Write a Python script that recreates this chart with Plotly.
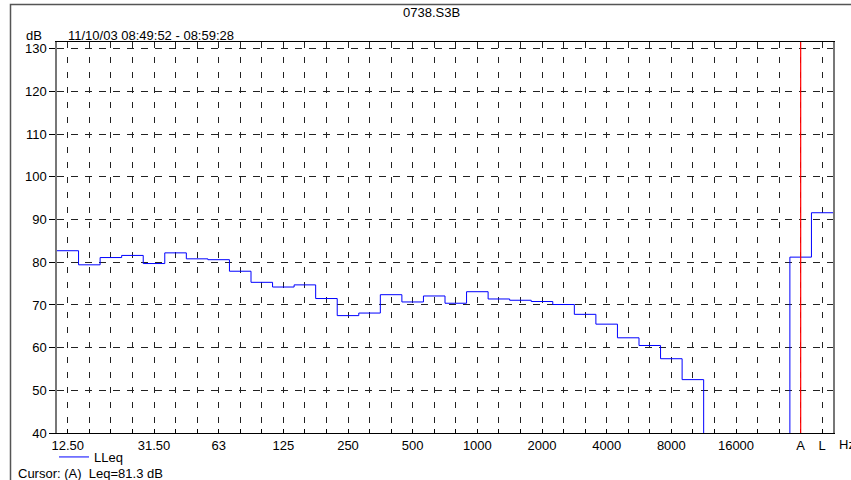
import numpy as np
import plotly.graph_objects as go

# ---- data ----
band_labels = ["12.50", "16", "20", "25", "31.50", "40", "50", "63", "80", "100",
               "125", "160", "200", "250", "315", "400", "500", "630", "800", "1000",
               "1250", "1600", "2000", "2500", "3150", "4000", "5000", "6300", "8000",
               "10000", "12500", "16000", "20000", "", "A", "L"]
lleq_values = [82.7, 79.4, 81.1, 81.6, 79.7, 82.2, 80.8, 80.6, 77.9, 75.3,
               74.2, 74.7, 71.5, 67.5, 68.1, 72.4, 70.7, 72.1, 70.4, 73.1,
               71.4, 71.1, 70.8, 70.1, 67.8, 65.5, 62.3, 60.5, 57.4, 52.5,
               0, 0, 0, 0, 81.2, 91.6]
shown_labels = ["12.50", "31.50", "63", "125", "250", "500", "1000", "2000",
                "4000", "8000", "16000", "A", "L"]
y_ticks = [40, 50, 60, 70, 80, 90, 100, 110, 120, 130]
cursor_band = "A"
cursor_text = "Cursor: (A)\u00a0 Leq=81.3 dB"
title_text = "0738.S3B"
date_text = "11/10/03 08:49:52 - 08:59:28"

n = len(band_labels)
idx = np.arange(n)
edges = np.arange(n + 1) - 0.5
y_step = lleq_values + [lleq_values[-1]]
ticktext = [lab if lab in shown_labels else "" for lab in band_labels]

# ---- layout geometry (pixels) ----
WIDTH, HEIGHT = 851, 480
L, R, T, B = 57, 18, 42, 47
PW, PH = WIDTH - L - R, HEIGHT - T - B


def px(xp):
    return (xp - L) / PW


def py(yp):
    return (HEIGHT - B - yp) / PH


FONT = "Liberation Sans, Arial, sans-serif"
FS = 13

fig = go.Figure()
fig.add_trace(go.Scatter(
    x=edges, y=y_step, mode="lines", line_shape="hv",
    line=dict(color="#0000ff", width=1), name="LLeq", showlegend=True,
    cliponaxis=True,
))

fig.update_layout(
    width=WIDTH, height=HEIGHT,
    margin=dict(l=L, r=R, t=T, b=B, pad=0, autoexpand=False),
    paper_bgcolor="white", plot_bgcolor="white",
    font=dict(family=FONT, size=FS, color="black"),
    showlegend=True,
    legend=dict(orientation="h", x=px(54), y=py(442), xanchor="left", yanchor="top",
                font=dict(size=FS, family=FONT, color="black"),
                bgcolor="rgba(0,0,0,0)", itemwidth=30),
    xaxis=dict(range=[-0.5, n - 0.5], tickmode="array", tickvals=idx, ticktext=ticktext,
               showgrid=True, gridcolor="#222222", gridwidth=1, griddash="6px,9px",
               showline=True, linecolor="black", linewidth=1, mirror=True,
               ticks="inside", ticklen=4, tickcolor="black", zeroline=False,
               tickfont=dict(size=FS, family=FONT, color="black"), tickangle=0),
    yaxis=dict(range=[40, 131.6], tickmode="array", tickvals=y_ticks,
               showgrid=True, gridcolor="#222222", gridwidth=1, griddash="7px,7px",
               showline=True, linecolor="#777777", linewidth=1.5, mirror=True,
               ticks="outside", ticklen=6, tickcolor="black", zeroline=False,
               tickfont=dict(size=FS, family=FONT, color="black")),
)

# cursor line
fig.add_vline(x=band_labels.index(cursor_band), line=dict(color="#ff0000", width=1.2))

# outer frame (left and top edges of the window frame), drawn as paper-space path
fig.add_shape(type="path", xref="paper", yref="paper",
              path=f"M {px(10.5)},{py(480)} L {px(10.5)},{py(4.5)} L {px(851)},{py(4.5)}",
              line=dict(color="#555555", width=1.5), layer="above")

ann = [
    dict(text=title_text, x=px(431), y=py(13), xanchor="center", yanchor="middle"),
    dict(text="dB", x=px(34), y=py(36), xanchor="center", yanchor="middle"),
    dict(text=date_text, x=px(66), y=py(36), xanchor="left", yanchor="middle"),
    dict(text="Hz", x=px(837), y=py(444), xanchor="left", yanchor="middle"),
    dict(text=cursor_text, x=px(16), y=py(474), xanchor="left", yanchor="middle"),
]
for a in ann:
    fig.add_annotation(xref="paper", yref="paper", showarrow=False,
                       font=dict(size=FS, family=FONT, color="black"), **a)

post = """
document.body.style.margin='0px';
document.body.style.overflow='hidden';
var g = document.getElementsByClassName('plotly-graph-div')[0];
var fr = document.createElement('div');
fr.style.cssText = 'position:fixed;left:10px;top:4px;width:900px;height:600px;' +
  'border-left:1px solid #555;border-top:1px solid #555;pointer-events:none;z-index:1000;';
document.body.appendChild(fr);
"""

fig.write_html("out.html", config={"displayModeBar": False}, post_script=post)
